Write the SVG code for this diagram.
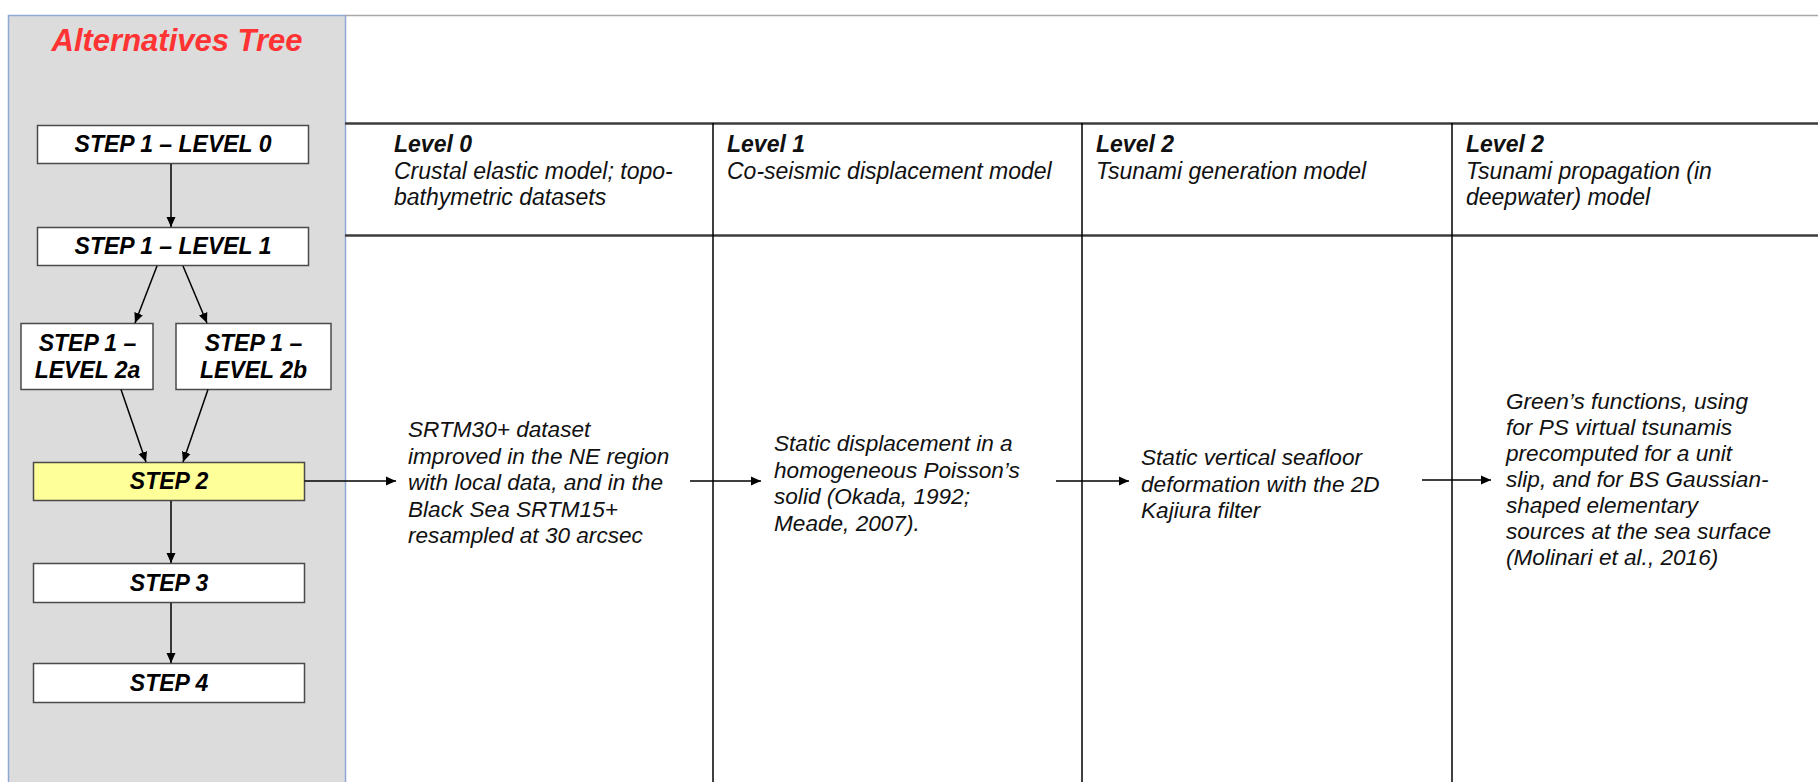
<svg xmlns="http://www.w3.org/2000/svg" width="1818" height="782" viewBox="0 0 1818 782">
  <style>
    .panel { fill: #dcdcdc; stroke: #8fa9d6; stroke-width: 1.5; }
    .box { fill: #ffffff; stroke: #4a4a4a; stroke-width: 1.5; }
    .box.hl { fill: #ffff99; }
    .boxlabel { font-family: "Liberation Sans", Arial, sans-serif; font-size: 23px; font-weight: bold; font-style: italic; fill: #000; text-anchor: middle; }
    .title { font-family: "Liberation Sans", Arial, sans-serif; font-size: 31px; font-weight: bold; font-style: italic; fill: #ff3333; text-anchor: middle; }
    .hdr { font-family: "Liberation Sans", Arial, sans-serif; font-size: 23px; font-style: italic; fill: #111; }
    .hdr .lvl { font-weight: bold; }
    .body { font-family: "Liberation Sans", Arial, sans-serif; font-size: 22.6px; font-style: italic; fill: #111; }
    .rule { stroke: #3c3c3c; stroke-width: 2.5; }
    .col { stroke: #000; stroke-width: 1.5; }
    .edge { stroke: #000; stroke-width: 1.5; fill: none; marker-end: url(#arrow); }
  </style>
  <defs>
    <marker id="arrow" viewBox="0 0 10 10" refX="10" refY="5" markerWidth="10" markerHeight="10" markerUnits="userSpaceOnUse" orient="auto">
      <path d="M0,0.5 L10,5 L0,9.5 Z" fill="#000"/>
    </marker>
  </defs>

  <rect x="0" y="0" width="1818" height="782" fill="#ffffff"/>

  <!-- left panel holding the tree -->
  <g id="panel">
    <rect class="panel" x="8.5" y="15.5" width="337" height="780"/>
    <text class="title" x="177" y="51">Alternatives Tree</text>
  </g>

  <!-- table grid -->
  <g id="table">
    <line x1="345" y1="15.5" x2="1818" y2="15.5" stroke="#a8a8a8" stroke-width="1.5"/>
    <line class="rule" x1="345" y1="123.5" x2="1818" y2="123.5"/>
    <line class="rule" x1="345" y1="235.5" x2="1818" y2="235.5"/>
    <line class="col" x1="713" y1="123" x2="713" y2="782"/>
    <line class="col" x1="1082" y1="123" x2="1082" y2="782"/>
    <line class="col" x1="1452" y1="123" x2="1452" y2="782"/>
  </g>

  <!-- tree nodes -->
  <g id="s1l0">
    <rect class="box" x="37.5" y="125.5" width="271" height="38"/>
    <text class="boxlabel" x="173" y="152">STEP 1 – LEVEL 0</text>
  </g>
  <g id="s1l1">
    <rect class="box" x="37.5" y="227.5" width="271" height="38"/>
    <text class="boxlabel" x="173" y="253.5">STEP 1 – LEVEL 1</text>
  </g>
  <g id="s1l2a">
    <rect class="box" x="21" y="323.5" width="132" height="66"/>
    <text class="boxlabel" x="87.5" y="351">STEP 1 –</text>
    <text class="boxlabel" x="87.5" y="378">LEVEL 2a</text>
  </g>
  <g id="s1l2b">
    <rect class="box" x="176" y="323.5" width="155" height="66"/>
    <text class="boxlabel" x="253.5" y="351">STEP 1 –</text>
    <text class="boxlabel" x="253.5" y="378">LEVEL 2b</text>
  </g>
  <g id="s2">
    <rect class="box hl" x="33.5" y="462.5" width="271" height="38"/>
    <text class="boxlabel" x="169" y="489">STEP 2</text>
  </g>
  <g id="s3">
    <rect class="box" x="33.5" y="563.5" width="271" height="39"/>
    <text class="boxlabel" x="169" y="590.5">STEP 3</text>
  </g>
  <g id="s4">
    <rect class="box" x="33.5" y="663.5" width="271" height="39"/>
    <text class="boxlabel" x="169" y="690.5">STEP 4</text>
  </g>

  <!-- column headers -->
  <g id="hdr0" class="hdr">
    <text x="394" y="152" class="lvl">Level 0</text>
    <text x="394" y="178.5">Crustal elastic model; topo-</text>
    <text x="394" y="205">bathymetric datasets</text>
  </g>
  <g id="hdr1" class="hdr">
    <text x="727" y="152" class="lvl">Level 1</text>
    <text x="727" y="178.5">Co-seismic displacement model</text>
  </g>
  <g id="hdr2" class="hdr">
    <text x="1096" y="152" class="lvl">Level 2</text>
    <text x="1096" y="178.5">Tsunami generation model</text>
  </g>
  <g id="hdr3" class="hdr">
    <text x="1466" y="152" class="lvl">Level 2</text>
    <text x="1466" y="178.5">Tsunami propagation (in</text>
    <text x="1466" y="205">deepwater) model</text>
  </g>

  <!-- column contents -->
  <g id="c0" class="body">
    <text x="408" y="437">SRTM30+ dataset</text>
    <text x="408" y="463.5">improved in the NE region</text>
    <text x="408" y="490">with local data, and in the</text>
    <text x="408" y="516.5">Black Sea SRTM15+</text>
    <text x="408" y="543">resampled at 30 arcsec</text>
  </g>
  <g id="c1" class="body">
    <text x="774" y="451">Static displacement in a</text>
    <text x="774" y="477.5">homogeneous Poisson’s</text>
    <text x="774" y="504">solid (Okada, 1992;</text>
    <text x="774" y="530.5">Meade, 2007).</text>
  </g>
  <g id="c2" class="body">
    <text x="1141" y="465">Static vertical seafloor</text>
    <text x="1141" y="491.5">deformation with the 2D</text>
    <text x="1141" y="518">Kajiura filter</text>
  </g>
  <g id="c3" class="body">
    <text x="1506" y="409">Green’s functions, using</text>
    <text x="1506" y="435">for PS virtual tsunamis</text>
    <text x="1506" y="461">precomputed for a unit</text>
    <text x="1506" y="487">slip, and for BS Gaussian-</text>
    <text x="1506" y="513">shaped elementary</text>
    <text x="1506" y="539">sources at the sea surface</text>
    <text x="1506" y="565">(Molinari et al., 2016)</text>
  </g>

  <!-- connectors -->
  <g id="connectors">
    <line class="edge" x1="171" y1="164" x2="171" y2="227"/>
    <line class="edge" x1="157" y1="266" x2="135" y2="323"/>
    <line class="edge" x1="183" y1="266" x2="207" y2="323"/>
    <line class="edge" x1="121" y1="389.5" x2="146" y2="462"/>
    <line class="edge" x1="208" y1="389.5" x2="183" y2="462"/>
    <line class="edge" x1="171" y1="501" x2="171" y2="563"/>
    <line class="edge" x1="171" y1="603" x2="171" y2="663"/>
    <line class="edge" x1="304.5" y1="481" x2="396" y2="481"/>
    <line class="edge" x1="690" y1="481" x2="761" y2="481"/>
    <line class="edge" x1="1056" y1="481" x2="1129" y2="481"/>
    <line class="edge" x1="1422" y1="480" x2="1491" y2="480"/>
  </g>
</svg>
